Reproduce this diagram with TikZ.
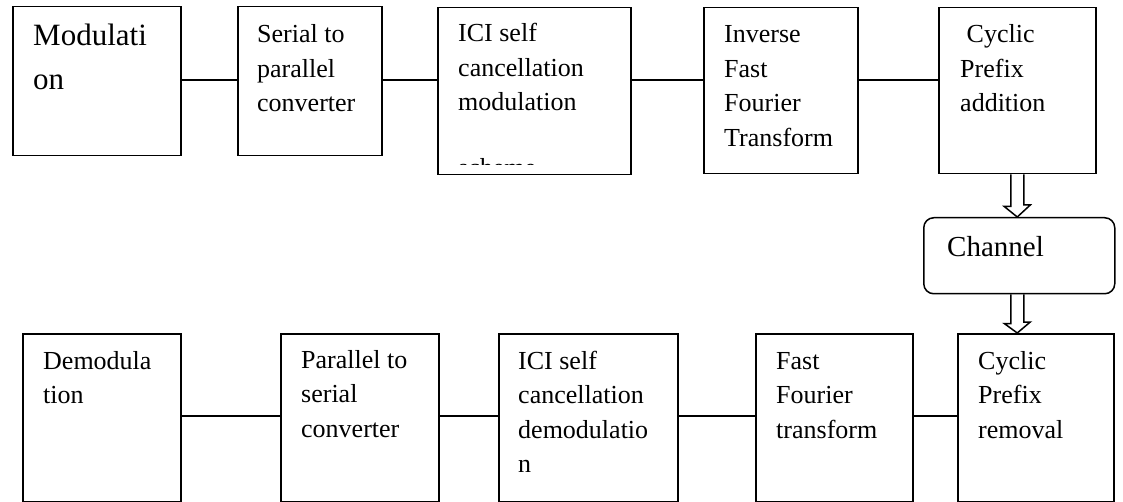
\documentclass[tikz,border=0pt]{standalone}
\usepackage{fontspec}
\setmainfont{Liberation Serif}
\tikzset{
  block/.style={draw, line width=1.5pt, inner sep=0pt, anchor=north west},
  lbl/.style={inner sep=0pt, anchor=base west, font=\fontsize{26}{34.5}\selectfont},
  link/.style={line width=1.5pt},
  hollow/.style={line width=1.5pt, line join=miter}
}
\begin{document}
\begin{tikzpicture}[x=1pt,y=-1pt]
\useasboundingbox (0,0) rectangle (1123,502);
\coordinate (toprow) at (0,80);
\coordinate (botrow) at (0,416);

% transmitter
\node[block, minimum width=168pt, minimum height=149pt] (mod) at (12,6) {};
\node[block, minimum width=144pt, minimum height=149pt] (s2p) at (237,6) {};
\node[block, minimum width=193pt, minimum height=167pt] (icim) at (437,7) {};
\node[block, minimum width=154pt, minimum height=166pt] (ifft) at (703,7) {};
\node[block, minimum width=157pt, minimum height=166pt] (cpa) at (938,7) {};
\node[block, rounded corners=10pt, minimum width=191pt, minimum height=76pt] (chan) at (923,217) {};

% receiver
\node[block, minimum width=158pt, minimum height=168pt] (dem) at (22,333) {};
\node[block, minimum width=158pt, minimum height=168pt] (p2s) at (280,333) {};
\node[block, minimum width=179pt, minimum height=168pt] (icid) at (498,333) {};
\node[block, minimum width=157pt, minimum height=168pt] (fft) at (755,333) {};
\node[block, minimum width=156pt, minimum height=168pt] (cpr) at (957,333) {};

% labels
\node[lbl] (modt) at ([shift={(21pt,-40pt)}]mod.north west)
  {\parbox[t]{150pt}{\fontsize{31}{44}\selectfont Modulati\\on}};
\node[lbl] (s2pt) at ([shift={(20pt,-37pt)}]s2p.north west)
  {\parbox[t]{150pt}{Serial to\\parallel\\converter}};
\begin{scope}
  \clip (icim.north west) rectangle ([yshift=10.5pt]icim.south east);
  \node[lbl] (icimt) at ([shift={(21pt,-35pt)}]icim.north west)
    {\parbox[t]{180pt}{ICI self\\cancellation\\modulation\\[31pt]scheme}};
\end{scope}
\node[lbl] (ifftt) at ([shift={(21pt,-36pt)}]ifft.north west)
  {\parbox[t]{150pt}{Inverse\\Fast\\Fourier\\Transform}};
\node[lbl] (cpat) at ([shift={(22pt,-36pt)}]cpa.north west)
  {\parbox[t]{150pt}{\ Cyclic\\Prefix\\addition}};
\node[lbl] (chant) at ([shift={(24pt,-40pt)}]chan.north west)
  {\fontsize{29}{34}\selectfont Channel};
\node[lbl] (demt) at ([shift={(21pt,-36pt)}]dem.north west)
  {\parbox[t]{150pt}{Demodula\\tion}};
\node[lbl] (p2st) at ([shift={(21pt,-35pt)}]p2s.north west)
  {\parbox[t]{150pt}{Parallel to\\serial\\converter}};
\node[lbl] (icidt) at ([shift={(20pt,-36pt)}]icid.north west)
  {\parbox[t]{170pt}{ICI self\\cancellation\\demodulatio\\n}};
\node[lbl] (fftt) at ([shift={(21pt,-36pt)}]fft.north west)
  {\parbox[t]{150pt}{Fast\\Fourier\\transform}};
\node[lbl] (cprt) at ([shift={(21pt,-36pt)}]cpr.north west)
  {\parbox[t]{150pt}{Cyclic\\Prefix\\removal}};

% connectors
\draw[link] (mod.east |- toprow) -- (s2p.west |- toprow);
\draw[link] (s2p.east |- toprow) -- (icim.west |- toprow);
\draw[link] (icim.east |- toprow) -- (ifft.west |- toprow);
\draw[link] (ifft.east |- toprow) -- (cpa.west |- toprow);
\draw[link] (dem.east |- botrow) -- (p2s.west |- botrow);
\draw[link] (p2s.east |- botrow) -- (icid.west |- botrow);
\draw[link] (icid.east |- botrow) -- (fft.west |- botrow);
\draw[link] (fft.east |- botrow) -- (cpr.west |- botrow);

% hollow arrows through the channel
\coordinate (arr1) at (cpa.south);
\coordinate (arr2) at (cpa.south |- chan.south);
\draw[hollow] ([xshift=-6.5pt]arr1) -- ++(0,32) -- ++(-6.5,0) -- (arr1 |- chan.north)
  -- ++(13,-12) -- ++(-6.5,0) -- ([xshift=6.5pt]arr1);
\draw[hollow] ([xshift=-6.5pt]arr2) -- ++(0,29) -- ++(-6.5,0) -- (arr2 |- cpr.north)
  -- ++(13,-11) -- ++(-6.5,0) -- ([xshift=6.5pt]arr2);
\end{tikzpicture}
\end{document}
